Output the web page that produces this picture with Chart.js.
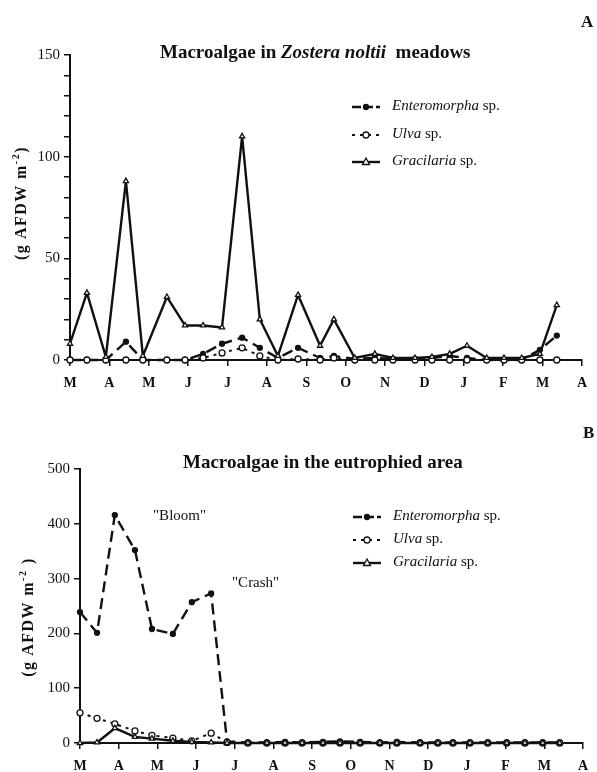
<!DOCTYPE html>
<html>
<head>
<meta charset="utf-8">
<script src="https://cdn.jsdelivr.net/npm/chart.js@4.4.0/dist/chart.umd.min.js"></script>
<style>
  body { margin:0; background:#fff; }
  #page { position:relative; width:597px; height:772px; overflow:hidden; font-family:"Liberation Serif","DejaVu Serif",serif; color:#111; }
  .wrap { position:absolute; left:0; width:597px; }
  .title { position:absolute; font-weight:bold; font-size:19px; white-space:nowrap; }
  .letter { position:absolute; font-weight:bold; font-size:17px; }
  .ylab { position:absolute; font-weight:bold; font-size:16px; letter-spacing:1.5px; white-space:nowrap; transform:translate(-50%,-50%) rotate(-90deg); }
  .leg { position:absolute; font-size:15px; white-space:nowrap; }
  .leg i { font-style:italic; }
  .note { position:absolute; font-size:15px; white-space:nowrap; }
  svg { position:absolute; overflow:visible; }
</style>
</head>
<body>
<div id="page">
  <div class="wrap" style="top:0;height:400px"><canvas id="cA" width="597" height="400"></canvas></div>
  <div class="wrap" style="top:390px;height:382px"><canvas id="cB" width="597" height="382"></canvas></div>

  <div class="letter" style="left:581px;top:12px">A</div>
  <div class="title" style="left:160px;top:41px">Macroalgae in <i>Zostera noltii</i>&nbsp; meadows</div>
  <div class="ylab" style="left:20px;top:203px">(g AFDW m<sup style="font-size:10px">-2</sup>)</div>

  <div class="letter" style="left:583px;top:423px">B</div>
  <div class="title" style="left:183px;top:451px">Macroalgae in the eutrophied area</div>
  <div class="ylab" style="left:27px;top:617px">(g AFDW m<sup style="font-size:10px">-2</sup> )</div>
  <div class="note" style="left:153px;top:507px">"Bloom"</div>
  <div class="note" style="left:232px;top:574px">"Crash"</div>

  <div id="legA"></div>
  <div id="legB"></div>
</div>
<script>
// ---- data ----
const monthLabels = ['M','A','M','J','J','A','S','O','N','D','J','F','M','A'];
const seriesNames = ['Enteromorpha', 'Ulva', 'Gracilaria'];

// sampling dates, in months from the first March
const datesA = [0, 0.43, 0.91, 1.42, 1.85, 2.46, 2.92, 3.38, 3.86, 4.37, 4.82, 5.28, 5.79, 6.35, 6.70, 7.23, 7.74, 8.20, 8.76, 9.19, 9.64, 10.08, 10.58, 11.02, 11.47, 11.93, 12.36];
const datesB = [0, 0.44, 0.90, 1.42, 1.86, 2.40, 2.89, 3.39, 3.80, 4.34, 4.83, 5.30, 5.74, 6.28, 6.72, 7.24, 7.75, 8.19, 8.79, 9.25, 9.64, 10.08, 10.54, 11.03, 11.50, 11.96, 12.40];

// Panel A: Zostera noltii meadows (g AFDW m-2)
const enteroA = [0, 0, 0, 9, 0, 0, 0, 3, 8, 11, 6, 1, 6, 1, 2, 0.5, 1, 0.5, 0.5, 1, 2, 1, 0, 0, 0, 5, 12];
const ulvaA   = [0, 0, 0, 0, 0, 0, 0, 1, 3.5, 6, 2, 0, 0.5, 0, 1, 0, 0, 0, 0, 0, 0, 0, 0, 0, 0, 0, 0];
const gracA   = [8, 33, 1.5, 88, 2, 31, 17, 17, 16, 110, 20, 2, 32, 7, 20, 1, 3, 1, 1, 1.5, 3, 7, 1, 1, 1, 3, 27];

// Panel B: eutrophied area (g AFDW m-2)
const enteroB = [239, 201, 416, 352, 208, 199, 257, 273, 3, 1, 1, 2, 1, 2, 3, 2, 1, 2, 1, 1, 1, 1, 1, 1, 1, 1, 1];
const ulvaB   = [55, 45, 35, 22, 14, 9, 4, 18, 1, 0, 0, 0, 0, 0, 0, 0, 0, 0, 0, 0, 0, 0, 0, 0, 0, 0, 0];
const gracB   = [0, 1, 27, 11, 8, 4, 2, 1, 0, 0, 0, 0, 0, 0, 0, 0, 0, 0, 0, 0, 0, 0, 0, 0, 0, 0, 0];

const yTicksA = { max: 150, step: 10, labelEvery: 50 };
const yTicksB = { max: 500, step: 100, labelEvery: 100 };

// ---- styles ----
const INK = '#111';
const FONT = "'Liberation Serif', 'DejaVu Serif', serif";
const styles = [
  { borderDash: [11, 6], borderWidth: 2.4, pointStyle: 'circle', pointRadius: 2.5, pointBackgroundColor: INK },
  { borderDash: [3, 5], borderWidth: 2, pointStyle: 'circle', pointRadius: 3, pointBackgroundColor: '#fff' },
  { borderDash: [], borderWidth: 2.4, pointStyle: 'triangle', pointRadius: 3, pointBackgroundColor: '#fff' }
];

function pts(xs, ys) { return xs.map((x, i) => ({ x: x, y: ys[i] })); }

function makeChart(id, dates, seriesVals, yt, geom) {
  const datasets = seriesVals.map((vals, k) => Object.assign({
    label: seriesNames[k],
    data: pts(dates, vals),
    borderColor: INK,
    pointBorderColor: INK,
    pointBorderWidth: 1.3,
    borderJoinStyle: 'round',
    tension: 0,
    fill: false,
    clip: false
  }, styles[k])).reverse();

  return new Chart(document.getElementById(id), {
    type: 'line',
    data: { datasets: datasets },
    options: {
      responsive: false,
      animation: false,
      events: [],
      layout: { padding: { top: geom.top, right: geom.right, left: 0, bottom: 0 } },
      plugins: { legend: { display: false }, tooltip: { enabled: false }, title: { display: false } },
      scales: {
        x: {
          type: 'linear', min: 0, max: 13,
          afterFit: s => { s.height = geom.xh; },
          afterBuildTicks: s => { s.ticks = monthLabels.map((m, i) => ({ value: i })); },
          ticks: { autoSkip: false, maxRotation: 0, padding: geom.xpad, color: INK,
                   font: { family: FONT, size: 14, weight: 'bold' },
                   callback: v => monthLabels[v] },
          grid: { display: true, drawOnChartArea: false, drawTicks: true, tickLength: 6, color: INK, lineWidth: 1.5 },
          border: { display: true, color: INK, width: 2 }
        },
        y: {
          min: 0, max: yt.max,
          afterFit: s => { s.width = geom.yw; },
          ticks: { stepSize: yt.step, autoSkip: false, padding: 4, color: INK,
                   font: { family: FONT, size: 15 },
                   callback: v => (v % yt.labelEvery === 0 ? String(v) : '') },
          grid: { display: true, drawOnChartArea: false, drawTicks: true, tickLength: 6, color: INK, lineWidth: 1.5 },
          border: { display: true, color: INK, width: 2 }
        }
      }
    }
  });
}

makeChart('cA', datesA, [enteroA, ulvaA, gracA], yTicksA, { top: 55, right: 15, xh: 40, yw: 70, xpad: 9 });
makeChart('cB', datesB, [enteroB, ulvaB, gracB], yTicksB, { top: 79, right: 14, xh: 29, yw: 80, xpad: 9 });

// ---- legends (HTML text + SVG samples) ----
function legend(el, left, tops) {
  let html = '';
  tops.forEach((t, k) => {
    const st = styles[k];
    const dash = st.borderDash.length ? st.borderDash.join(',') : 'none';
    let marker;
    if (st.pointStyle === 'triangle') {
      marker = '<polygon points="14,-4 17.5,2.5 10.5,2.5" fill="#fff" stroke="' + INK + '" stroke-width="1.3"/>';
    } else {
      marker = '<circle cx="14" cy="0" r="' + st.pointRadius + '" fill="' + st.pointBackgroundColor + '" stroke="' + INK + '" stroke-width="1.3"/>';
    }
    html += '<svg style="left:' + left + 'px;top:' + t + 'px" width="28" height="1">' +
      '<line x1="0" y1="0" x2="28" y2="0" stroke="' + INK + '" stroke-width="' + st.borderWidth + '" stroke-dasharray="' + (k === 0 ? '9,3' : dash) + '"/>' + marker + '</svg>';
    html += '<div class="leg" style="left:' + (left + 40) + 'px;top:' + (t - 10) + 'px"><i>' + seriesNames[k] + '</i> sp.</div>';
  });
  el.innerHTML = html;
}
legend(document.getElementById('legA'), 352, [107, 135, 162]);
legend(document.getElementById('legB'), 353, [517, 540, 563]);
</script>
</body>
</html>
